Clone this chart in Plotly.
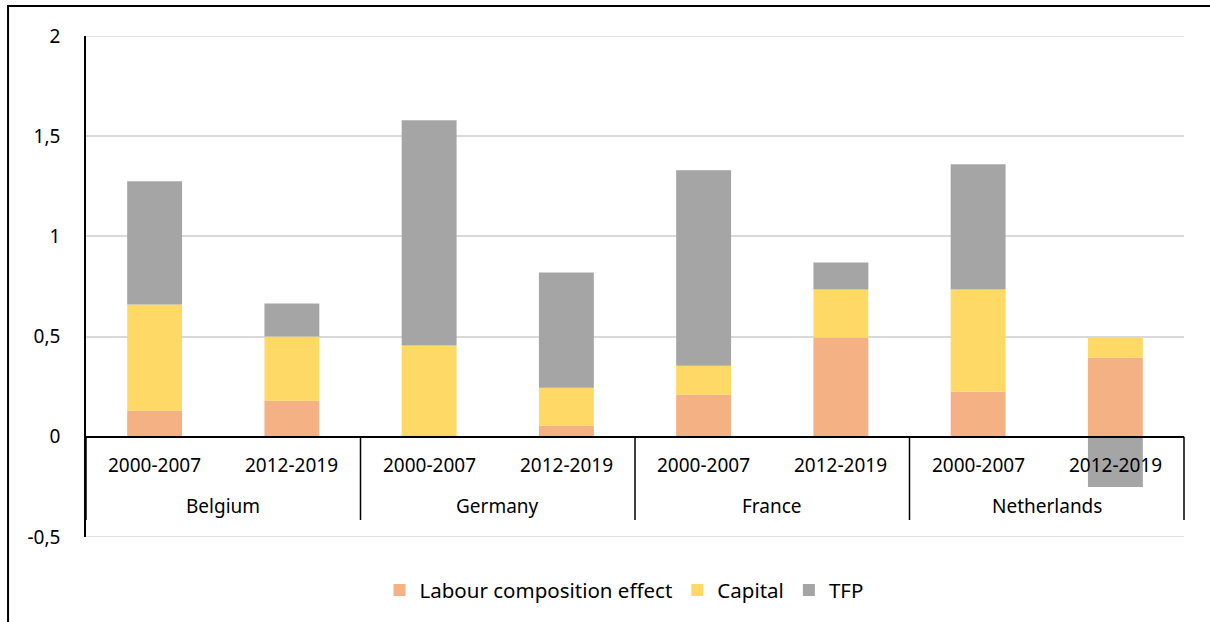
import plotly.graph_objects as go

# Growth decomposition by country and period (percentage points)
countries = ["Belgium", "Belgium", "Germany", "Germany",
             "France", "France", "Netherlands", "Netherlands"]
periods = ["2000-2007", "2012-2019"] * 4

labour = [0.13, 0.18, 0.005, 0.055, 0.21, 0.495, 0.225, 0.395]
capital = [0.53, 0.32, 0.45, 0.19, 0.145, 0.24, 0.51, 0.10]
tfp = [0.615, 0.165, 1.125, 0.575, 0.975, 0.135, 0.625, -0.25]

y_ticks = [-0.5, 0, 0.5, 1, 1.5, 2]
y_tick_labels = ["-0,5", "0", "0,5", "1", "1,5", "2"]

series = [
    ("Labour composition effect", labour, "#F4B183"),
    ("Capital", capital, "#FFD966"),
    ("TFP", tfp, "#A5A5A5"),
]

FONT = "Noto Sans"
GRID = "#D9D9D9"
x = [countries, periods]
n = len(periods)

fig = go.Figure()
for name, vals, color in series:
    fig.add_trace(go.Bar(
        x=x, y=vals, name=name,
        marker=dict(color=color, line=dict(width=0)),
        width=0.4,
    ))

fig.update_layout(
    width=1210, height=622,
    barmode="relative",
    plot_bgcolor="white", paper_bgcolor="white",
    margin=dict(l=86, r=26, t=36, b=85, autoexpand=False),
    font=dict(family=FONT, size=19, color="black"),
    showlegend=True,
    legend=dict(
        orientation="h", x=0.49, xanchor="center",
        y=0.051, yref="container", yanchor="middle",
        bgcolor="rgba(0,0,0,0)",
        font=dict(family=FONT, size=20.5, color="black"),
        itemwidth=30, tracegroupgap=0,
    ),
)

# Category axis sits on the zero line; its labels are drawn below as a table
fig.update_xaxes(
    type="multicategory",
    anchor="free", position=0.2,
    showline=True, linecolor="black", linewidth=1.5,
    showgrid=False, showdividers=False, showticklabels=False,
    ticks="", automargin=False,
)

fig.update_yaxes(
    range=[y_ticks[0], y_ticks[-1]], domain=[0, 1],
    tickvals=y_ticks, ticktext=y_tick_labels,
    showline=True, linecolor="black", linewidth=1.5,
    showgrid=True, gridcolor=GRID, gridwidth=1.5,
    zeroline=False,
    ticks="", ticklabelstandoff=20, automargin=False,
    tickfont=dict(family=FONT, size=19, color="black"),
)

# Gridlines at the two ends of the value range
for v in (y_ticks[0], y_ticks[-1]):
    fig.add_shape(
        type="line", xref="paper", yref="y",
        x0=0, x1=1, y0=v, y1=v,
        line=dict(color=GRID, width=1.5), layer="below",
    )

PERIOD_Y = -0.141
COUNTRY_Y = -0.345
DIVIDER_BOTTOM = -0.415

# Period labels under each bar
for i, p in enumerate(periods):
    fig.add_annotation(
        x=(i + 0.5) / n, xref="paper", y=PERIOD_Y, yref="y",
        text=p, showarrow=False, xanchor="center", yanchor="middle",
        font=dict(family=FONT, size=19, color="black"),
    )

# Country labels centred under each group, with dividers between groups
groups = []
for i, c in enumerate(countries):
    if not groups or groups[-1][0] != c:
        groups.append([c, i, i])
    else:
        groups[-1][2] = i
for c, start, end in groups:
    fig.add_annotation(
        x=(start + end + 1) / 2 / n, xref="paper", y=COUNTRY_Y, yref="y",
        text=c, showarrow=False, xanchor="center", yanchor="middle",
        font=dict(family=FONT, size=19, color="black"),
    )
edges = [g[1] for g in groups] + [n]
for e in edges:
    fig.add_shape(
        type="line", xref="paper", yref="y",
        x0=e / n, x1=e / n, y0=0, y1=DIVIDER_BOTTOM,
        line=dict(color="black", width=1.5),
    )

# Outer frame around the chart
fig.add_shape(
    type="rect", xref="paper", yref="paper",
    x0=-0.071, x1=1.03, y0=-0.2, y1=1.06,
    line=dict(color="black", width=2), fillcolor="rgba(0,0,0,0)",
    layer="above",
)

fig.write_html("out.html")
